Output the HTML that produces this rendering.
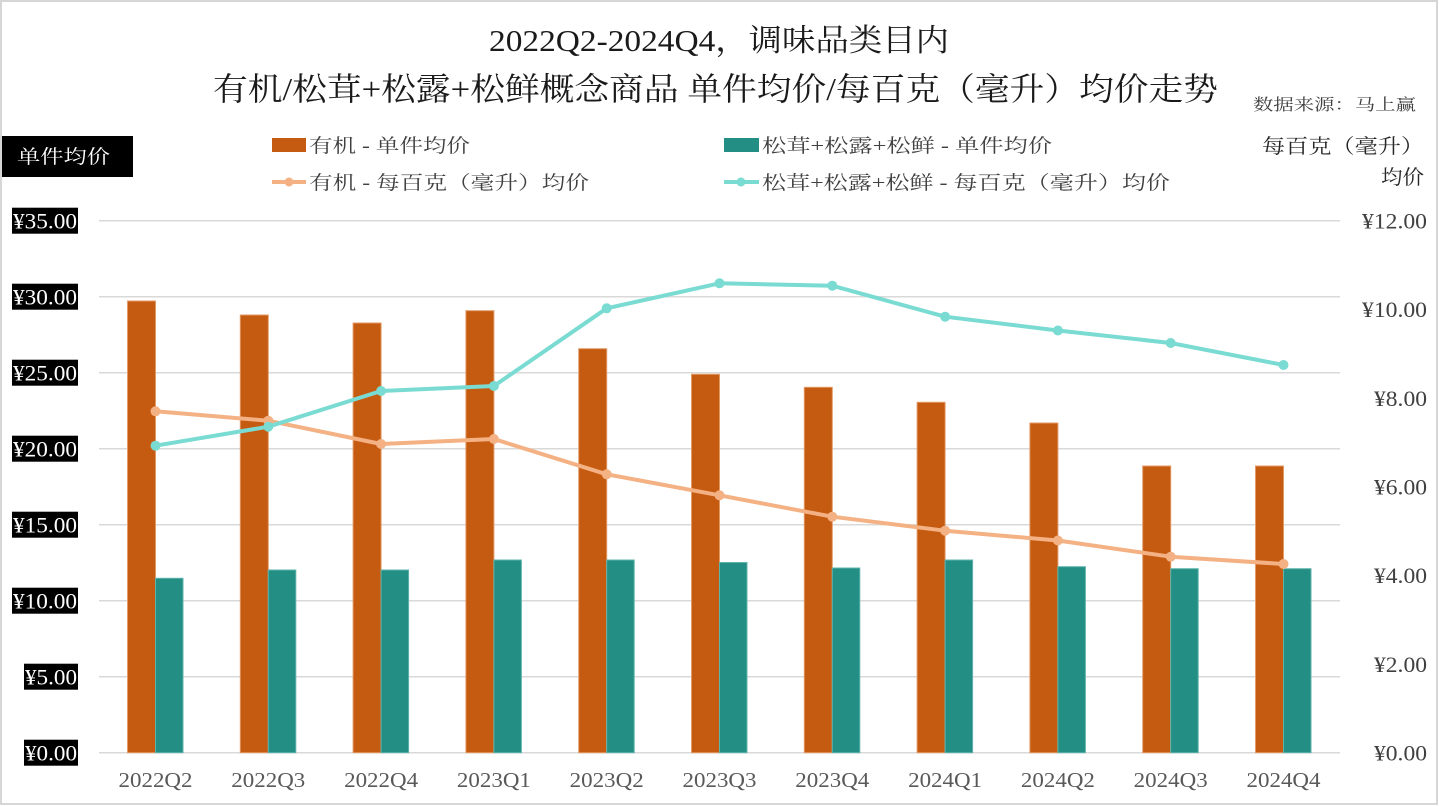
<!DOCTYPE html>
<html><head><meta charset="utf-8"><style>
html,body{margin:0;padding:0;background:#fff;}
svg{display:block;}
.ser{font-family:"Liberation Serif","Noto Serif CJK SC",serif;}
.cjk{font-family:"Liberation Serif","Noto Serif CJK SC","Noto Sans CJK SC",serif;}
</style></head><body>
<svg width="1439" height="806" viewBox="0 0 1439 806" xmlns="http://www.w3.org/2000/svg">
<rect x="1" y="1" width="1436" height="803" fill="#fff" stroke="#d6d6d6" stroke-width="2"/>

<!-- titles -->
<text class="cjk" x="489" y="51" font-size="31" fill="#1a1a1a" textLength="460" lengthAdjust="spacingAndGlyphs">2022Q2-2024Q4，调味品类目内</text>
<text class="cjk" x="213" y="100" font-size="32" fill="#1a1a1a" textLength="1005" lengthAdjust="spacingAndGlyphs">有机/松茸+松露+松鲜概念商品 单件均价/每百克（毫升）均价走势</text>
<text class="cjk" x="1253" y="110" font-size="16" fill="#404040" textLength="163" lengthAdjust="spacingAndGlyphs">数据来源：马上赢</text>

<!-- left axis title -->
<rect x="2" y="136" width="131" height="41" fill="#000"/>
<text class="cjk" x="17" y="163" font-size="19" fill="#fff" textLength="93" lengthAdjust="spacingAndGlyphs">单件均价</text>

<!-- right axis title -->
<text class="cjk" x="1262" y="153" font-size="20" fill="#262626" textLength="162" lengthAdjust="spacingAndGlyphs">每百克（毫升）</text>
<text class="cjk" x="1381" y="184" font-size="20" fill="#262626" textLength="43" lengthAdjust="spacingAndGlyphs">均价</text>

<!-- legend -->
<rect x="272" y="138" width="34" height="14" fill="#C55A11"/>
<text class="cjk" x="309" y="152" font-size="19" fill="#404040" textLength="161" lengthAdjust="spacingAndGlyphs">有机 - 单件均价</text>
<line x1="272" y1="182" x2="306" y2="182" stroke="#F4B183" stroke-width="4"/>
<circle cx="289" cy="182" r="4.5" fill="#F4B183"/>
<text class="cjk" x="309" y="189" font-size="19" fill="#404040" textLength="280" lengthAdjust="spacingAndGlyphs">有机 - 每百克（毫升）均价</text>

<rect x="724" y="138" width="35" height="14" fill="#238E84"/>
<text class="cjk" x="762" y="152" font-size="19" fill="#404040" textLength="290" lengthAdjust="spacingAndGlyphs">松茸+松露+松鲜 - 单件均价</text>
<line x1="724" y1="182" x2="759" y2="182" stroke="#7ADBD2" stroke-width="4"/>
<circle cx="741" cy="182" r="4.5" fill="#7ADBD2"/>
<text class="cjk" x="762" y="189" font-size="19" fill="#404040" textLength="408" lengthAdjust="spacingAndGlyphs">松茸+松露+松鲜 - 每百克（毫升）均价</text>

<!-- gridlines -->
<g stroke="#d9d9d9" stroke-width="1.5">
<line x1="99" y1="220.7" x2="1340" y2="220.7"/>
<line x1="99" y1="296.7" x2="1340" y2="296.7"/>
<line x1="99" y1="372.7" x2="1340" y2="372.7"/>
<line x1="99" y1="448.7" x2="1340" y2="448.7"/>
<line x1="99" y1="524.7" x2="1340" y2="524.7"/>
<line x1="99" y1="600.7" x2="1340" y2="600.7"/>
<line x1="99" y1="676.7" x2="1340" y2="676.7"/>
<line x1="99" y1="752.7" x2="1340" y2="752.7"/>
</g>

<!-- left axis labels -->
<g class="ser" font-size="22" fill="#fff">
<rect x="12" y="207.7" width="66" height="26" fill="#000"/><text class="ser" x="13" y="228.5" textLength="64" lengthAdjust="spacingAndGlyphs">¥35.00</text>
<rect x="12" y="283.7" width="66" height="26" fill="#000"/><text class="ser" x="13" y="304.5" textLength="64" lengthAdjust="spacingAndGlyphs">¥30.00</text>
<rect x="12" y="359.7" width="66" height="26" fill="#000"/><text class="ser" x="13" y="380.5" textLength="64" lengthAdjust="spacingAndGlyphs">¥25.00</text>
<rect x="12" y="435.7" width="66" height="26" fill="#000"/><text class="ser" x="13" y="456.5" textLength="64" lengthAdjust="spacingAndGlyphs">¥20.00</text>
<rect x="12" y="511.7" width="66" height="26" fill="#000"/><text class="ser" x="13" y="532.5" textLength="64" lengthAdjust="spacingAndGlyphs">¥15.00</text>
<rect x="12" y="587.7" width="66" height="26" fill="#000"/><text class="ser" x="13" y="608.5" textLength="64" lengthAdjust="spacingAndGlyphs">¥10.00</text>
<rect x="24" y="663.7" width="54" height="26" fill="#000"/><text class="ser" x="25" y="684.5" textLength="52" lengthAdjust="spacingAndGlyphs">¥5.00</text>
<rect x="24" y="739.7" width="54" height="26" fill="#000"/><text class="ser" x="25" y="760.5" textLength="52" lengthAdjust="spacingAndGlyphs">¥0.00</text>
</g>

<!-- right axis labels -->
<g class="ser" font-size="22" fill="#404040">
<text class="ser" x="1362" y="228.5" textLength="65" lengthAdjust="spacingAndGlyphs">¥12.00</text>
<text class="ser" x="1362" y="317.2" textLength="65" lengthAdjust="spacingAndGlyphs">¥10.00</text>
<text class="ser" x="1374" y="405.8" textLength="53" lengthAdjust="spacingAndGlyphs">¥8.00</text>
<text class="ser" x="1374" y="494.5" textLength="53" lengthAdjust="spacingAndGlyphs">¥6.00</text>
<text class="ser" x="1374" y="583.2" textLength="53" lengthAdjust="spacingAndGlyphs">¥4.00</text>
<text class="ser" x="1374" y="671.8" textLength="53" lengthAdjust="spacingAndGlyphs">¥2.00</text>
<text class="ser" x="1374" y="760.5" textLength="53" lengthAdjust="spacingAndGlyphs">¥0.00</text>
</g>

<!-- bars -->
<g stroke-width="1">
<rect x="127.5" y="301" width="28" height="451.7" fill="#C55A11" stroke="#E39A66"/>
<rect x="240.3" y="315" width="28" height="437.7" fill="#C55A11" stroke="#E39A66"/>
<rect x="353.1" y="323" width="28" height="429.7" fill="#C55A11" stroke="#E39A66"/>
<rect x="465.9" y="310.7" width="28" height="442" fill="#C55A11" stroke="#E39A66"/>
<rect x="578.7" y="348.7" width="28" height="404" fill="#C55A11" stroke="#E39A66"/>
<rect x="691.5" y="374.3" width="28" height="378.4" fill="#C55A11" stroke="#E39A66"/>
<rect x="804.3" y="387.3" width="28" height="365.4" fill="#C55A11" stroke="#E39A66"/>
<rect x="917.1" y="402.3" width="28" height="350.4" fill="#C55A11" stroke="#E39A66"/>
<rect x="1029.9" y="423" width="28" height="329.7" fill="#C55A11" stroke="#E39A66"/>
<rect x="1142.7" y="466" width="28" height="286.7" fill="#C55A11" stroke="#E39A66"/>
<rect x="1255.5" y="466" width="28" height="286.7" fill="#C55A11" stroke="#E39A66"/>

<rect x="155.5" y="578.3" width="27.5" height="174.4" fill="#238E84" stroke="#5FB3AB"/>
<rect x="268.3" y="570" width="27.5" height="182.7" fill="#238E84" stroke="#5FB3AB"/>
<rect x="381.1" y="570" width="27.5" height="182.7" fill="#238E84" stroke="#5FB3AB"/>
<rect x="493.9" y="560" width="27.5" height="192.7" fill="#238E84" stroke="#5FB3AB"/>
<rect x="606.7" y="560" width="27.5" height="192.7" fill="#238E84" stroke="#5FB3AB"/>
<rect x="719.5" y="562.5" width="27.5" height="190.2" fill="#238E84" stroke="#5FB3AB"/>
<rect x="832.3" y="568" width="27.5" height="184.7" fill="#238E84" stroke="#5FB3AB"/>
<rect x="945.1" y="560" width="27.5" height="192.7" fill="#238E84" stroke="#5FB3AB"/>
<rect x="1057.9" y="566.7" width="27.5" height="186" fill="#238E84" stroke="#5FB3AB"/>
<rect x="1170.7" y="568.7" width="27.5" height="184" fill="#238E84" stroke="#5FB3AB"/>
<rect x="1283.5" y="568.7" width="27.5" height="184" fill="#238E84" stroke="#5FB3AB"/>
</g>

<!-- lines -->
<polyline fill="none" stroke="#F4B183" stroke-width="4" stroke-linejoin="round" points="155.5,411.3 268.3,420.7 381.1,444 493.9,439 606.7,474.3 719.5,495.3 832.3,516.7 945.1,530.7 1057.9,540.5 1170.7,556.7 1283.5,564"/>
<g fill="#F4B183">
<circle cx="155.5" cy="411.3" r="5"/><circle cx="268.3" cy="420.7" r="5"/><circle cx="381.1" cy="444" r="5"/><circle cx="493.9" cy="439" r="5"/><circle cx="606.7" cy="474.3" r="5"/><circle cx="719.5" cy="495.3" r="5"/><circle cx="832.3" cy="516.7" r="5"/><circle cx="945.1" cy="530.7" r="5"/><circle cx="1057.9" cy="540.5" r="5"/><circle cx="1170.7" cy="556.7" r="5"/><circle cx="1283.5" cy="564" r="5"/>
</g>
<polyline fill="none" stroke="#7ADBD2" stroke-width="4" stroke-linejoin="round" points="155.5,445.7 268.3,426.7 381.1,391 493.9,386 606.7,308.3 719.5,283.3 832.3,285.7 945.1,316.7 1057.9,330.5 1170.7,343 1283.5,365"/>
<g fill="#7ADBD2">
<circle cx="155.5" cy="445.7" r="5"/><circle cx="268.3" cy="426.7" r="5"/><circle cx="381.1" cy="391" r="5"/><circle cx="493.9" cy="386" r="5"/><circle cx="606.7" cy="308.3" r="5"/><circle cx="719.5" cy="283.3" r="5"/><circle cx="832.3" cy="285.7" r="5"/><circle cx="945.1" cy="316.7" r="5"/><circle cx="1057.9" cy="330.5" r="5"/><circle cx="1170.7" cy="343" r="5"/><circle cx="1283.5" cy="365" r="5"/>
</g>

<!-- x labels -->
<g class="ser" font-size="21" fill="#595959" text-anchor="middle">
<text class="ser" x="155.5" y="787" textLength="74" lengthAdjust="spacingAndGlyphs">2022Q2</text>
<text class="ser" x="268.3" y="787" textLength="74" lengthAdjust="spacingAndGlyphs">2022Q3</text>
<text class="ser" x="381.1" y="787" textLength="74" lengthAdjust="spacingAndGlyphs">2022Q4</text>
<text class="ser" x="493.9" y="787" textLength="74" lengthAdjust="spacingAndGlyphs">2023Q1</text>
<text class="ser" x="606.7" y="787" textLength="74" lengthAdjust="spacingAndGlyphs">2023Q2</text>
<text class="ser" x="719.5" y="787" textLength="74" lengthAdjust="spacingAndGlyphs">2023Q3</text>
<text class="ser" x="832.3" y="787" textLength="74" lengthAdjust="spacingAndGlyphs">2023Q4</text>
<text class="ser" x="945.1" y="787" textLength="74" lengthAdjust="spacingAndGlyphs">2024Q1</text>
<text class="ser" x="1057.9" y="787" textLength="74" lengthAdjust="spacingAndGlyphs">2024Q2</text>
<text class="ser" x="1170.7" y="787" textLength="74" lengthAdjust="spacingAndGlyphs">2024Q3</text>
<text class="ser" x="1283.5" y="787" textLength="74" lengthAdjust="spacingAndGlyphs">2024Q4</text>
</g>
</svg>
</body></html>
